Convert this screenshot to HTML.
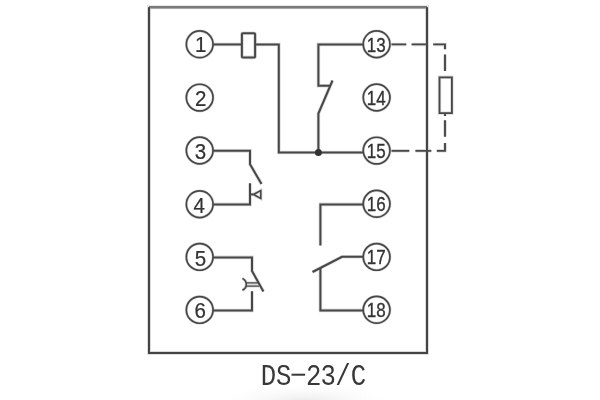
<!DOCTYPE html>
<html><head><meta charset="utf-8">
<style>
html,body{margin:0;padding:0;background:#fff;}
body{width:600px;height:400px;overflow:hidden;position:relative;}
svg{position:absolute;left:0;top:0;will-change:transform;}
</style></head>
<body>
<svg width="600" height="400" viewBox="0 0 600 400">
<defs>
<radialGradient id="sh" cx="0.5" cy="0.5" r="0.5">
<stop offset="0" stop-color="#e9e9e9"/>
<stop offset="1" stop-color="#ffffff" stop-opacity="0"/>
</radialGradient>
</defs>
<ellipse cx="305" cy="402" rx="95" ry="20" fill="url(#sh)"/>
<g fill="none" stroke="#d9d9d9" stroke-linejoin="miter">
<rect x="149" y="7.3" width="278" height="345.6" stroke-width="3.8"/>
<g stroke-width="2.9">
<circle cx="199.7" cy="44.3" r="13.35"/>
<circle cx="199.7" cy="97.6" r="13.35"/>
<circle cx="199.7" cy="150.5" r="13.35"/>
<circle cx="199.7" cy="204.2" r="13.35"/>
<circle cx="199.7" cy="256.9" r="13.35"/>
<circle cx="199.7" cy="309.9" r="13.35"/>
<circle cx="376.6" cy="44.2" r="13.35"/>
<circle cx="376.6" cy="97.5" r="13.35"/>
<circle cx="376.6" cy="150.6" r="13.35"/>
<circle cx="376.6" cy="203.8" r="13.35"/>
<circle cx="376.6" cy="256.9" r="13.35"/>
<circle cx="376.6" cy="309.8" r="13.35"/>
</g>
<path d="M213.04999999999998 44.45H241.8" stroke-width="3.6"/>
<path d="M255.2 44.45H278.8V152.5H363.25" stroke-width="3.6"/>
<path d="M363.25 44.4H318.4V85.7H331" stroke-width="3.6"/>
<path d="M332.5 80.5L318.4 113.5V152.5" stroke-width="3.6"/>
<path d="M213.04999999999998 150.85H250V164.2L261.5 184" stroke-width="3.6"/>
<path d="M213.04999999999998 204.4H250V183.3" stroke-width="3.6"/>
<path d="M250 194.4H253.2" stroke-width="3.6"/>
<path d="M253.4 194.5L260.8 190.5V198.5Z" stroke-width="3.2"/>
<path d="M213.04999999999998 257.4H252V270.9L263.4 291.5" stroke-width="3.6"/>
<path d="M246.3 282.9H259M246.3 286.1H259" stroke-width="3.0"/>
<path d="M242.4 278.4Q246.3 280.5 246.3 284.5Q246.3 288.5 242.4 290.2" stroke-width="3.2"/>
<path d="M213.04999999999998 310.5H252V291.3" stroke-width="3.6"/>
<path d="M363.25 204.4H320.4V245.5" stroke-width="3.6"/>
<path d="M363.25 256.8H342L312.5 272" stroke-width="3.6"/>
<path d="M363.25 310.4H320.4V268" stroke-width="3.6"/>
<path d="M391.5 44.4H406.3M411.6 44.4H427M433.2 44.4H445V49.3M445 54.5V71M445 113.6V116M445 120.3V136.8M445 143V150.85H436.8M431.3 150.85H415.4M409.3 150.85H391.5" stroke-width="3.5"/>
<path d="M241.9 34.2Q241.9 33.2 242.9 33.2H254.1Q255.1 33.2 255.1 34.2V56.4Q255.1 57.4 254.1 57.4H242.9Q241.9 57.4 241.9 56.4Z" stroke-width="3.6"/>
<path d="M439.5 77.3H451.9V113.1H439.5Z" stroke-width="3.4000000000000004"/>
</g>
<g fill="none" stroke="#474747" stroke-linejoin="miter">
<path d="M149 7.3H427" stroke="#7a7a7a" stroke-width="2.6"/>
<path d="M149 7.3V352.9H427V7.3" stroke="#444" stroke-width="2"/>
<g stroke-width="1.7">
<circle cx="199.7" cy="44.3" r="13.35"/>
<circle cx="199.7" cy="97.6" r="13.35"/>
<circle cx="199.7" cy="150.5" r="13.35"/>
<circle cx="199.7" cy="204.2" r="13.35"/>
<circle cx="199.7" cy="256.9" r="13.35"/>
<circle cx="199.7" cy="309.9" r="13.35"/>
<circle cx="376.6" cy="44.2" r="13.35"/>
<circle cx="376.6" cy="97.5" r="13.35"/>
<circle cx="376.6" cy="150.6" r="13.35"/>
<circle cx="376.6" cy="203.8" r="13.35"/>
<circle cx="376.6" cy="256.9" r="13.35"/>
<circle cx="376.6" cy="309.8" r="13.35"/>
</g>
<path d="M213.04999999999998 44.45H241.8" stroke-width="2"/>
<path d="M255.2 44.45H278.8V152.5H363.25" stroke-width="2"/>
<path d="M363.25 44.4H318.4V85.7H331" stroke-width="2"/>
<path d="M332.5 80.5L318.4 113.5V152.5" stroke-width="2"/>
<path d="M213.04999999999998 150.85H250V164.2L261.5 184" stroke-width="2"/>
<path d="M213.04999999999998 204.4H250V183.3" stroke-width="2"/>
<path d="M250 194.4H253.2" stroke-width="2"/>
<path d="M253.4 194.5L260.8 190.5V198.5Z" stroke-width="1.6"/>
<path d="M213.04999999999998 257.4H252V270.9L263.4 291.5" stroke-width="2"/>
<path d="M246.3 282.9H259M246.3 286.1H259" stroke-width="1.4"/>
<path d="M242.4 278.4Q246.3 280.5 246.3 284.5Q246.3 288.5 242.4 290.2" stroke-width="1.6"/>
<path d="M213.04999999999998 310.5H252V291.3" stroke-width="2"/>
<path d="M363.25 204.4H320.4V245.5" stroke-width="2"/>
<path d="M363.25 256.8H342L312.5 272" stroke-width="2"/>
<path d="M363.25 310.4H320.4V268" stroke-width="2"/>
<path d="M391.5 44.4H406.3M411.6 44.4H427M433.2 44.4H445V49.3M445 54.5V71M445 113.6V116M445 120.3V136.8M445 143V150.85H436.8M431.3 150.85H415.4M409.3 150.85H391.5" stroke-width="1.9"/>
<path d="M241.9 34.2Q241.9 33.2 242.9 33.2H254.1Q255.1 33.2 255.1 34.2V56.4Q255.1 57.4 254.1 57.4H242.9Q241.9 57.4 241.9 56.4Z" stroke-width="2"/>
<path d="M439.5 77.3H451.9V113.1H439.5Z" stroke-width="1.8"/>
</g>
<circle cx="318.4" cy="152.5" r="3.5" fill="#333"/>
<g font-family="Liberation Sans, sans-serif" font-size="22.8" fill="#333" stroke="#333" stroke-width="0.25" text-anchor="middle">
<text x="200.6" y="52.40" transform="translate(200.6 0) scale(0.9 1) translate(-200.6 0)">1</text>
<text x="200.75" y="105.70" transform="translate(200.75 0) scale(0.9 1) translate(-200.75 0)">2</text>
<text x="200.5" y="158.90" transform="translate(200.5 0) scale(0.9 1) translate(-200.5 0)">3</text>
<text x="199.3" y="212.90" transform="translate(199.3 0) scale(0.9 1) translate(-199.3 0)">4</text>
<text x="200.5" y="265.80" transform="translate(200.5 0) scale(0.9 1) translate(-200.5 0)">5</text>
<text x="200.2" y="318.00" transform="translate(200.2 0) scale(0.9 1) translate(-200.2 0)">6</text>
</g>
<g font-family="Liberation Sans, sans-serif" font-size="19.3" fill="#333" stroke="#333" stroke-width="0.35" text-anchor="middle">
<text x="376.2" y="51.70" transform="translate(376.2 0) scale(0.88 1) translate(-376.2 0)">13</text>
<text x="376.2" y="105.00" transform="translate(376.2 0) scale(0.88 1) translate(-376.2 0)">14</text>
<text x="376.2" y="158.10" transform="translate(376.2 0) scale(0.88 1) translate(-376.2 0)">15</text>
<text x="376.2" y="211.30" transform="translate(376.2 0) scale(0.88 1) translate(-376.2 0)">16</text>
<text x="376.2" y="264.40" transform="translate(376.2 0) scale(0.88 1) translate(-376.2 0)">17</text>
<text x="376.2" y="317.30" transform="translate(376.2 0) scale(0.88 1) translate(-376.2 0)">18</text>
</g>
<g font-family="Liberation Mono, monospace" font-size="29" fill="#383838" text-anchor="middle">
<text x="268.5" y="384.8" transform="translate(268.5 0) scale(0.885 1) translate(-268.5 0)">D</text>
<text x="283.6" y="384.8" transform="translate(283.6 0) scale(0.885 1) translate(-283.6 0)">S</text>
<text x="313.8" y="384.8" transform="translate(313.8 0) scale(0.885 1) translate(-313.8 0)">2</text>
<text x="328.3" y="384.8" transform="translate(328.3 0) scale(0.885 1) translate(-328.3 0)">3</text>
<text x="343.0" y="384.8" transform="translate(343.0 0) scale(0.885 1) translate(-343.0 0)">/</text>
<text x="358.5" y="384.8" transform="translate(358.5 0) scale(0.885 1) translate(-358.5 0)">C</text>
</g>
<rect x="291.5" y="373.7" width="13.6" height="2" fill="#383838"/>
</svg>
</body></html>
